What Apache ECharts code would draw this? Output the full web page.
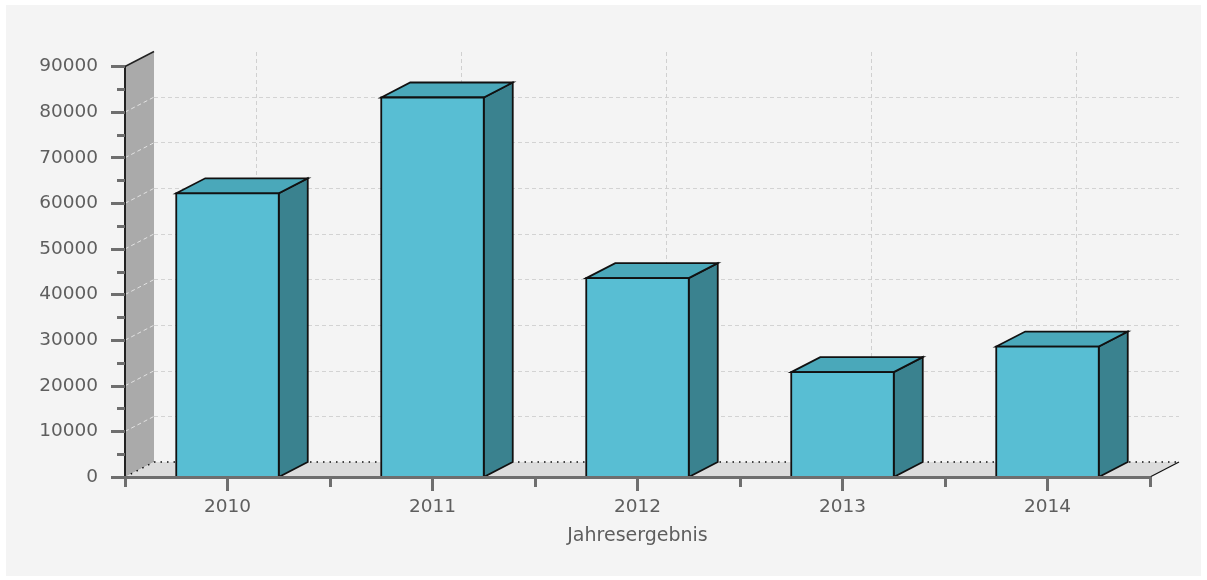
<!DOCTYPE html>
<html>
<head>
<meta charset="utf-8">
<script src="https://cdn.jsdelivr.net/npm/echarts@6/dist/echarts.min.js"></script>
<style>
  html, body { margin: 0; padding: 0; background: #ffffff; }
  #chart { width: 1207px; height: 580px; }
</style>
</head>
<body>
<div id="chart"></div>
<script>
// Annual results per year
const years = ['2010', '2011', '2012', '2013', '2014'];
const results = [62200, 83200, 43600, 23000, 28600];
const yMax = 90000;
const yStep = 10000;
const xAxisName = 'Jahresergebnis';

// 3D projection depth (px) and colours
const DX = 29, DY = 15;
const FRONT = '#58bed3', TOP = '#4aa8ba', SIDE = '#3a828f', EDGE = '#111111';
const TEXT = '#5e5e5e', TICK = '#6e6e6e';
const FONT = '"DejaVu Sans", sans-serif';

const G = { left: 125, top: 66.5, width: 1025, height: 410.5 };

const chart = echarts.init(document.getElementById('chart'), null, { renderer: 'canvas' });

// Back wall, floor and vertical grid lines on the back plane
function renderBackdrop(params, api) {
  const cs = params.coordSys;
  const x0 = cs.x, x1 = cs.x + cs.width;
  const base = api.coord([api.value(0), 0]);
  const top = api.coord([api.value(0), yMax]);
  const children = [];
  // vertical dashed grid line at the category centre, back plane
  children.push({
    type: 'line',
    shape: { x1: base[0] + DX, y1: base[1] - DY, x2: top[0] + DX, y2: top[1] - DY },
    style: { stroke: '#d0d0d0', lineWidth: 1, lineDash: [4, 3] }
  });
  if (params.dataIndex === 0) {
    const yb = base[1], yt = top[1];
    children.push({
      type: 'polygon',
      shape: { points: [[x0, yb], [x0, yt], [x0 + DX, yt - DY], [x0 + DX, yb - DY]] },
      style: { fill: '#aaaaaa' }
    });
    children.push({
      type: 'line',
      shape: { x1: x0, y1: yt, x2: x0 + DX, y2: yt - DY },
      style: { stroke: '#222', lineWidth: 1.5 }
    });
    for (let v = yStep; v < yMax; v += yStep) {
      const y = api.coord([api.value(0), v])[1];
      children.push({
        type: 'line',
        shape: { x1: x0, y1: y, x2: x0 + DX, y2: y - DY },
        style: { stroke: '#e2e2e2', lineWidth: 1, lineDash: [4, 3] }
      });
    }
    children.push({
      type: 'polygon',
      shape: { points: [[x0, yb], [x1, yb], [x1 + DX, yb - DY], [x0 + DX, yb - DY]] },
      style: { fill: '#dcdcdc' }
    });
    children.push({
      type: 'line',
      shape: { x1: x0 + DX, y1: yb - DY, x2: x1 + DX, y2: yb - DY },
      style: { stroke: '#111', lineWidth: 1.5, lineDash: [1.5, 5] }
    });
    children.push({
      type: 'line',
      shape: { x1: x0, y1: yb, x2: x0 + DX, y2: yb - DY },
      style: { stroke: '#111', lineWidth: 1.5, lineDash: [1.5, 5] }
    });
    children.push({
      type: 'line',
      shape: { x1: x1, y1: yb, x2: x1 + DX, y2: yb - DY },
      style: { stroke: '#111', lineWidth: 1.2 }
    });
  }
  return { type: 'group', children: children };
}

// 3D box: front face, top face and right side face
function renderBar(params, api) {
  const idx = api.value(0);
  const topPt = api.coord([idx, api.value(1)]);
  const basePt = api.coord([idx, 0]);
  const w = api.size([1, 0])[0] * 0.5;
  const xl = topPt[0] - w / 2, xr = topPt[0] + w / 2;
  const yt = topPt[1], yb = basePt[1];
  const stroke = { stroke: EDGE, lineWidth: 1.8, lineJoin: 'miter' };
  return {
    type: 'group',
    children: [
      { type: 'polygon',
        shape: { points: [[xr, yt], [xr + DX, yt - DY], [xr + DX, yb - DY], [xr, yb]] },
        style: Object.assign({ fill: SIDE }, stroke) },
      { type: 'polygon',
        shape: { points: [[xl, yt], [xl + DX, yt - DY], [xr + DX, yt - DY], [xr, yt]] },
        style: Object.assign({ fill: TOP }, stroke) },
      { type: 'rect',
        shape: { x: xl, y: yt, width: w, height: yb - yt },
        style: Object.assign({ fill: FRONT }, stroke) }
    ]
  };
}

const option = {
  backgroundColor: '#ffffff',
  animation: false,
  graphic: [{
    type: 'rect', z: -10, silent: true,
    shape: { x: 6, y: 5, width: 1195, height: 571 },
    style: { fill: '#f4f4f4' }
  }],
  grid: [
    { left: G.left, top: G.top, width: G.width, height: G.height },
    { left: G.left + DX, top: G.top - DY, width: G.width, height: G.height }
  ],
  xAxis: [
    {
      gridIndex: 0, type: 'category', data: years, z: 10,
      axisLine: { show: true, lineStyle: { color: TICK, width: 3 } },
      axisTick: { show: true, length: 10, lineStyle: { color: TICK, width: 3 } },
      axisLabel: { margin: 21, color: TEXT, fontSize: 18.5, fontFamily: FONT },
      splitLine: { show: false },
      name: xAxisName, nameLocation: 'middle', nameGap: 50,
      nameTextStyle: { color: TEXT, fontSize: 19, fontFamily: FONT }
    },
    {
      gridIndex: 0, type: 'category', data: years, position: 'bottom', z: 10,
      axisLine: { show: false },
      axisTick: { show: true, alignWithLabel: true, length: 14, lineStyle: { color: TICK, width: 3 } },
      axisLabel: { show: false },
      splitLine: { show: false }
    },
    {
      gridIndex: 1, type: 'category', data: years, show: false
    }
  ],
  yAxis: [
    {
      gridIndex: 0, type: 'value', min: 0, max: yMax, interval: yStep, z: 10,
      axisLine: { show: true, lineStyle: { color: '#222222', width: 2 } },
      axisTick: { show: true, length: 14, lineStyle: { color: TICK, width: 3 } },
      minorTick: { show: true, splitNumber: 2, length: 8, lineStyle: { color: TICK, width: 3 } },
      axisLabel: {
        margin: 27, color: TEXT, fontSize: 18.5, fontFamily: FONT,
        formatter: (v) => String(v)
      },
      splitLine: { show: false }
    },
    {
      gridIndex: 1, type: 'value', min: 0, max: yMax, interval: yStep,
      axisLine: { show: false }, axisTick: { show: false }, axisLabel: { show: false },
      splitLine: {
        show: true, showMinLine: false, showMaxLine: false,
        lineStyle: { color: '#d3d3d3', width: 1, type: [4, 3] }
      }
    }
  ],
  series: [
    {
      name: 'backdrop', type: 'custom', xAxisIndex: 0, yAxisIndex: 0, z: 1, silent: true,
      renderItem: renderBackdrop,
      data: years.map((y, i) => [i])
    },
    {
      name: xAxisName, type: 'custom', xAxisIndex: 0, yAxisIndex: 0, z: 5,
      renderItem: renderBar,
      data: results.map((v, i) => [i, v])
    }
  ]
};

chart.setOption(option);
</script>
</body>
</html>
